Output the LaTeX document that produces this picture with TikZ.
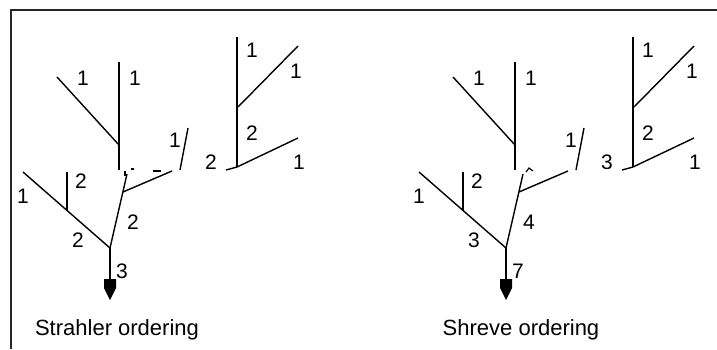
\documentclass[tikz,border=0pt]{standalone}
\usepackage{fontspec}
\setmainfont{Liberation Sans}

\tikzset{
  stream/.style={line width=1.4pt},
  order/.style={font=\fontsize{21}{21}\selectfont, inner sep=0pt},
  caption/.style={font=\fontsize{22}{22}\selectfont, inner sep=0pt, anchor=base}
}

\begin{document}
\begin{tikzpicture}[x=1pt,y=-1pt]
\useasboundingbox (0,0) rectangle (717,349);
\draw[line width=2pt, black!85] (11,349) -- (11,9.5) -- (717,9.5);

\foreach \p/\dx/\ma/\mb/\mc/\md/\tx/\title in {str/0/2/2/3/2/117/Strahler, shr/396/3/4/7/3/125/Shreve}{
\begin{scope}[xshift=\dx pt]
% upper tree
\draw[stream] (119,62) -- (119,170);
\draw[stream] (57,77) -- (119,145);
\draw[stream] (127,174) -- (110,248);
\draw[stream] (123,192) -- (172,171);
\draw[stream] (188,128) -- (180,170);
% right subtree
\draw[stream] (237,37) -- (237,167);
\draw[stream] (238,107) -- (298,46);
\draw[stream] (226,170) -- (237,167) -- (298,138);
% lower left tree
\draw[stream] (23,172) -- (110,248);
\draw[stream] (67,172) -- (67,211);
% outlet
\draw[stream] (110,248) -- (110,282);
\fill (104,279) -- (116,279) -- (116,288) -- (110,300) -- (104,288) -- cycle;

\node[order] (a-\p) at (83,78) {1};
\node[order] (b-\p) at (135,78) {1};
\node[order] (c-\p) at (81,181) {2};
\node[order] (d-\p) at (23,196) {1};
\node[order] (e-\p) at (78,240) {\ma};
\node[order] (f-\p) at (133,222) {\mb};
\node[order] (g-\p) at (122,271) {\mc};
\node[order] (h-\p) at (175,140) {1};
\begin{scope}
\clip (195,140) rectangle (230,168);
\node[order] (i-\p) at (211,162) {\md};
\end{scope}
\node[order] (j-\p) at (252,50) {1};
\node[order] (k-\p) at (296,71) {1};
\node[order] (l-\p) at (252,133) {2};
\node[order] (m-\p) at (299,162) {1};

\node[caption] (title-\p) at (\tx,335) {\title\ ordering};
\end{scope}
}

% remnants near the upper junctions
\draw[line width=1.2pt] (125,171) -- (125,176);
\draw[line width=1.2pt] (131,169) -- (134,169);
\draw[line width=1.2pt] (153,171) -- (161,171);
\draw[line width=1.2pt] (526,172) -- (529,168) -- (533,171);
\end{tikzpicture}
\end{document}
